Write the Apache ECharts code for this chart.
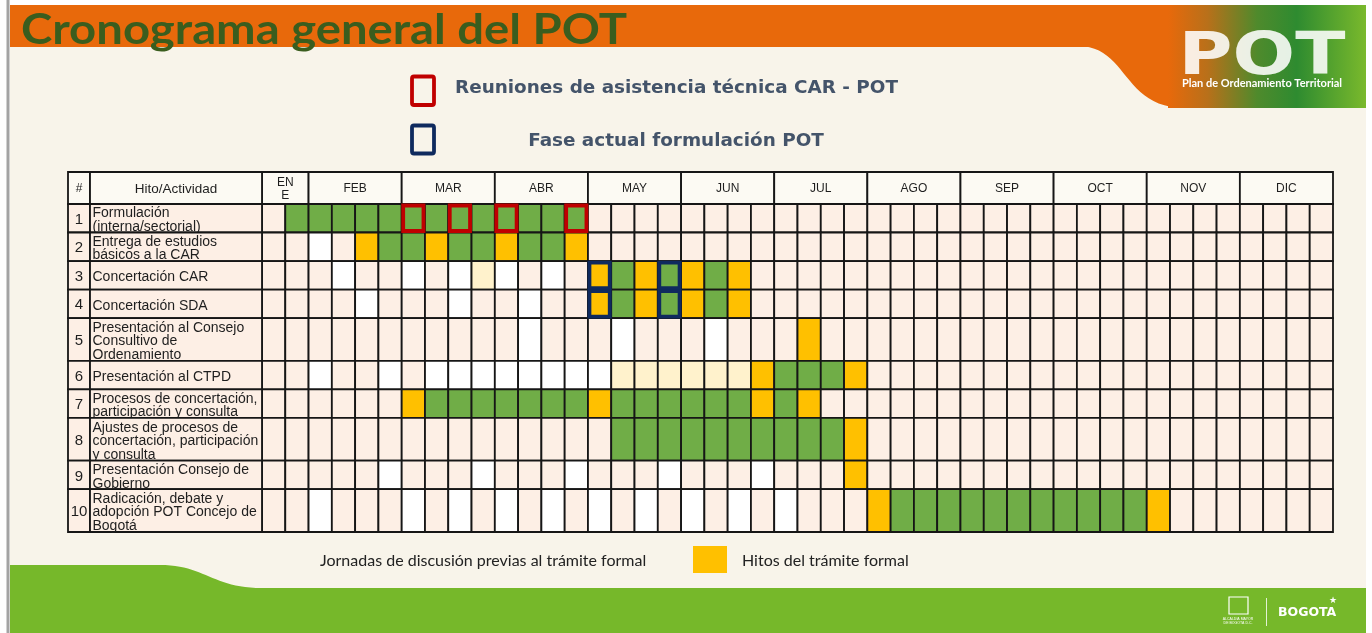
<!DOCTYPE html>
<html><head><meta charset="utf-8">
<script src="https://cdn.jsdelivr.net/npm/echarts@6/dist/echarts.min.js"></script>
<style>html,body{margin:0;padding:0;background:#fff}#c{width:1372px;height:633px}</style>
</head><body><div id="c"></div>
<script>
// ---------- DATA ----------
const months = ['EN\nE','FEB','MAR','ABR','MAY','JUN','JUL','AGO','SEP','OCT','NOV','DIC'];
const monthWeeks = [2,4,4,4,4,4,4,4,4,4,4,4];
const activityNumbers = ['1','2','3','4','5','6','7','8','9','10'];
const activities = [
  'Formulación\n(interna/sectorial)',
  'Entrega de estudios\nbásicos a la CAR',
  'Concertación CAR',
  'Concertación SDA',
  'Presentación al Consejo\nConsultivo de\nOrdenamiento',
  'Presentación al CTPD',
  'Procesos de concertación,\nparticipación y consulta',
  'Ajustes de procesos de\nconcertación, participación\ny consulta',
  'Presentación Consejo de\nGobierno',
  'Radicación, debate y\nadopción POT Concejo de\nBogotá'
];
// one character per week: p = sin actividad, w = jornada de discusión, g = actividad,
// y = hito del trámite formal, l = hito tentativo
const weekStates = [
  'pggggggggggggg' + 'pppppppppppppppppppppppppppppppp',
  'ppwpyggyggyggy' + 'pppppppppppppppppppppppppppppppp',
  'pppwppwpwlwpwpygygygyp' + 'pppppppppppppppppppppppp',
  'ppppwpppwppwppygygygyp' + 'pppppppppppppppppppppppp',
  'pppppppppppwpppwpppwpppy' + 'pppppppppppppppppppppp',
  'ppwppwpwwwwwwwwllllllygggy' + 'pppppppppppppppppppp',
  'ppppppygggggggyggggggygy' + 'pppppppppppppppppppppp',
  'ppppppppppppppp' + 'gggggggggg' + 'y' + 'pppppppppppppppppppp',
  'pppppwpppwpppwpppwpppwpppy' + 'pppppppppppppppppppp',
  'ppwpppwpwpwpwpwpwpwpwpwpppygggggggggggy' + 'pppppppp'
];
const technicalMeetings = [[0,6],[0,8],[0,10],[0,13]];   // [activity, week]
const currentPhase = [[2,14],[2,17],[3,14],[3,17]];       // [activity, week]
const topLegend = ['Reuniones de asistencia técnica CAR - POT','Fase actual formulación POT'];
const bottomLegend = ['Jornadas de discusión previas al trámite formal','Hitos del trámite formal'];
const titleText = 'Cronograma general del POT';

// ---------- STYLE ----------
const FILL = {p:'#fdefe5', w:'#ffffff', g:'#70ad47', y:'#ffc000', l:'#fff2cc'};
const LINE = '#161616';
const HEADER_H = 32;
const NUM_FRAC = 22/194;
const TXT = 'Liberation Sans, Arial, sans-serif';

// derived structure
const rowSpans = activities.map(a => Math.max(2, a.split('\n').length));
const rowStarts = []; let acc = 0; rowSpans.forEach(s => { rowStarts.push(acc); acc += s; });
const totalUnits = acc;
const totalWeeks = monthWeeks.reduce((a,b)=>a+b,0);
const monthStarts = []; let m = 0; monthWeeks.forEach(w => { monthStarts.push(m); m += w; });

const cellData = [], cellCodes = [];
weekStates.forEach((s, r) => {
  for (let k = 0; k < totalWeeks; k++) {
    cellData.push([k, rowStarts[r], rowStarts[r] + rowSpans[r]]);
    cellCodes.push(s[k] || 'p');
  }
});
const markData = arr => arr.map(([r,k]) => [k, rowStarts[r], rowStarts[r] + rowSpans[r]]);
const monthData = months.map((_, i) => [monthStarts[i], monthStarts[i] + monthWeeks[i]]);
const rowData = activities.map((_, r) => [0, rowStarts[r], rowStarts[r] + rowSpans[r]]);

function txt(text, x, y, o) {
  return {type:'text', style:Object.assign({text, x, y, fontFamily:TXT, fontSize:12, fill:'#1e1e1e',
    textAlign:'center', textVerticalAlign:'middle', align:'center', verticalAlign:'middle'}, o || {})};
}
// cubic bezier sampled into polygon points (decoration shapes)
function bez(p0, c1, c2, p1, n) {
  const pts = [];
  for (let i = 0; i <= n; i++) {
    const t = i / n, u = 1 - t;
    pts.push([u*u*u*p0[0] + 3*u*u*t*c1[0] + 3*u*t*t*c2[0] + t*t*t*p1[0],
              u*u*u*p0[1] + 3*u*u*t*c1[1] + 3*u*t*t*c2[1] + t*t*t*p1[1]]);
  }
  return pts;
}

function renderCell(params, api) {
  const p0 = api.coord([api.value(0), api.value(1)]);
  const p1 = api.coord([api.value(0) + 1, api.value(2)]);
  return {type:'rect', shape:{x:p0[0], y:p0[1], width:p1[0]-p0[0], height:p1[1]-p0[1]},
    style:{fill:FILL[cellCodes[params.dataIndex]], stroke:LINE, lineWidth:1.8}};
}
function markRenderer(color) {
  return function (params, api) {
    const p0 = api.coord([api.value(0), api.value(1)]);
    const p1 = api.coord([api.value(0) + 1, api.value(2)]);
    return {type:'rect', shape:{x:p0[0]+1.5, y:p0[1]+1.5, width:p1[0]-p0[0]-3, height:p1[1]-p0[1]-3},
      style:{fill:'none', stroke:color, lineWidth:3.8}};
  };
}
function renderMonth(params, api) {
  const p0 = api.coord([api.value(0), 0]);
  const p1 = api.coord([api.value(1), 0]);
  const y = p0[1] - HEADER_H;
  return {type:'group', children:[
    {type:'rect', shape:{x:p0[0], y, width:p1[0]-p0[0], height:HEADER_H}, style:{fill:'#fcfaf3', stroke:LINE, lineWidth:1.8}},
    txt(months[params.dataIndex], (p0[0]+p1[0])/2, y + HEADER_H/2 + 1, {fontSize:12, lineHeight:13})
  ]};
}
function renderRow(params, api) {
  const p0 = api.coord([0, api.value(1)]);
  const p1 = api.coord([1, api.value(2)]);
  const xs = p0[0] + (p1[0]-p0[0]) * NUM_FRAC;
  const cy = (p0[1]+p1[1])/2;
  const r = params.dataIndex;
  return {type:'group', children:[
    {type:'rect', shape:{x:p0[0], y:p0[1], width:xs-p0[0], height:p1[1]-p0[1]}, style:{fill:FILL.p, stroke:LINE, lineWidth:1.8}},
    {type:'rect', shape:{x:xs, y:p0[1], width:p1[0]-xs, height:p1[1]-p0[1]}, style:{fill:FILL.p, stroke:LINE, lineWidth:1.8}},
    txt(activityNumbers[r], (p0[0]+xs)/2, cy + 1.5, {fontSize:15}),
    txt(activities[r], xs + 2.5, cy + 2, {fontSize:14, lineHeight:13.6, textAlign:'left', align:'left'})
  ]};
}
function renderRowHeader(params, api) {
  const p0 = api.coord([0, 0]);
  const p1 = api.coord([1, 0]);
  const xs = p0[0] + (p1[0]-p0[0]) * NUM_FRAC;
  const y = p0[1] - HEADER_H;
  return {type:'group', children:[
    {type:'rect', shape:{x:p0[0], y, width:xs-p0[0], height:HEADER_H}, style:{fill:'#fcfaf3', stroke:LINE, lineWidth:1.8}},
    {type:'rect', shape:{x:xs, y, width:p1[0]-xs, height:HEADER_H}, style:{fill:'#fcfaf3', stroke:LINE, lineWidth:1.8}},
    txt('#', (p0[0]+xs)/2, y + HEADER_H/2 + 1, {fontSize:12}),
    txt('Hito/Actividad', (xs+p1[0])/2, y + HEADER_H/2 + 1, {fontSize:13.5})
  ]};
}

const orangeCurve = [[1078,5]].concat(bez([1078,46],[1128,46],[1122,108],[1185,108],24)).concat([[1185,5]]);
const greenBand = [[10,565],[160,565]].concat(bez([160,565],[205,565],[212,588],[262,588],24)).concat([[1366,588],[1366,633],[10,633]]);

function gtext(text, x, y, o, z) {
  return {type:'text', z: z == null ? -5 : z, style:Object.assign({text, x, y, fontFamily:TXT, fontSize:12, fill:'#222',
    textAlign:'left', textVerticalAlign:'middle', align:'left', verticalAlign:'middle'}, o || {})};
}

const titleEl = gtext(titleText, 21, 30, {fontFamily:'Lato', fontWeight:'bold', fontSize:42, fill:'#3a5d1e'});
titleEl.scaleX = 1.125; titleEl.originX = 21; titleEl.originY = 30;

const graphic = [
  {type:'rect', z:-10, shape:{x:0,y:0,width:1372,height:633}, style:{fill:'#ffffff'}},
  {type:'rect', z:-9, shape:{x:10,y:5,width:1356,height:628}, style:{fill:'#f8f4ea'}},
  {type:'rect', z:-9, shape:{x:6.5,y:0,width:3,height:633}, style:{fill:'#a3a3a3'}},
  {type:'rect', z:-8, shape:{x:10,y:5,width:1175,height:42}, style:{fill:'#e8690b'}},
  {type:'polygon', z:-8, shape:{points:orangeCurve}, style:{fill:'#e8690b'}},
  {type:'rect', z:-7, shape:{x:1168,y:5,width:1366-1168,height:103},
    style:{fill:{type:'linear', x:0, y:0, x2:1, y2:0, colorStops:[
      {offset:0, color:'#e8690b'},{offset:0.2, color:'#b8701a'},{offset:0.45, color:'#4f8a2c'},
      {offset:0.65, color:'#2e8b30'},{offset:1, color:'#7ab92c'}]}}},
  {type:'text', z:-6, scaleX:1.27, originX:1262, originY:59,
    style:{text:'POT', x:1262, y:59, fontFamily:'DejaVu Sans', fontWeight:'bold', fontSize:58,
    fill:'rgba(255,255,255,0.88)', textAlign:'center', textVerticalAlign:'middle', align:'center', verticalAlign:'middle'}},
  gtext('Plan de Ordenamiento Territorial', 1262, 83, {fontFamily:'Lato', fontWeight:'bold', fontSize:11, fill:'#ffffff', textAlign:'center', align:'center'}, -6),
  {type:'polygon', z:-8, shape:{points:greenBand}, style:{fill:'#76b82a'}},
  {type:'rect', z:-6, shape:{x:1229,y:597,width:19,height:17}, style:{fill:'none', stroke:'#ffffff', lineWidth:1.2}},
  gtext('ALCALDÍA MAYOR\nDE BOGOTÁ D.C.', 1238, 621, {fontSize:3.5, lineHeight:4, fill:'#ffffff', textAlign:'center', align:'center'}, -6),
  {type:'rect', z:-6, shape:{x:1266,y:598,width:1,height:28}, style:{fill:'rgba(255,255,255,0.8)'}},
  gtext('BOGOTA', 1278, 613, {fontFamily:'DejaVu Sans', fontWeight:'bold', fontSize:12.5, fill:'#ffffff'}, -6),
  gtext('★', 1333, 601, {fontFamily:'DejaVu Sans', fontSize:9, fill:'#ffffff', textAlign:'center', align:'center'}, -6),
  titleEl,
  {type:'rect', z:-5, shape:{x:412,y:76.5,width:22,height:28.5, r:2}, style:{fill:'none', stroke:'#c00000', lineWidth:3.8}},
  gtext(topLegend[0], 455, 88, {fontFamily:'DejaVu Sans', fontWeight:'bold', fontSize:18.4, fill:'#44546a'}),
  {type:'rect', z:-5, shape:{x:412,y:125.5,width:22,height:28, r:2}, style:{fill:'none', stroke:'#0f2a5e', lineWidth:3.8}},
  gtext(topLegend[1], 676, 141, {fontFamily:'DejaVu Sans', fontWeight:'bold', fontSize:18.4, fill:'#44546a', textAlign:'center', align:'center'}),
  gtext(bottomLegend[0], 320, 561, {fontFamily:'Lato', fontSize:16, fill:'#222222'}),
  {type:'rect', z:-5, shape:{x:693,y:546,width:34,height:27}, style:{fill:FILL.y}},
  gtext(bottomLegend[1], 742, 561, {fontFamily:'Lato', fontSize:16, fill:'#222222'})
];

const chart = echarts.init(document.getElementById('c'), null, {renderer:'canvas'});
chart.setOption({
  animation:false,
  backgroundColor:'#ffffff',
  graphic: {elements: graphic},
  grid:[{left:262, top:204, width:1071, height:328},{left:68, top:204, width:194, height:328}],
  xAxis:[{type:'value', gridIndex:0, min:0, max:totalWeeks, show:false},
         {type:'value', gridIndex:1, min:0, max:1, show:false}],
  yAxis:[{type:'value', gridIndex:0, min:0, max:totalUnits, inverse:true, show:false},
         {type:'value', gridIndex:1, min:0, max:totalUnits, inverse:true, show:false}],
  series:[
    {type:'custom', name:'celdas', xAxisIndex:0, yAxisIndex:0, clip:false, z:2, data:cellData, renderItem:renderCell, encode:{x:0, y:[1,2]}},
    {type:'custom', name:'meses', xAxisIndex:0, yAxisIndex:0, clip:false, z:2, data:monthData, renderItem:renderMonth, encode:{x:[0,1]}},
    {type:'custom', name:topLegend[0], xAxisIndex:0, yAxisIndex:0, clip:false, z:4, data:markData(technicalMeetings), renderItem:markRenderer('#c00000'), encode:{x:0, y:[1,2]}},
    {type:'custom', name:topLegend[1], xAxisIndex:0, yAxisIndex:0, clip:false, z:4, data:markData(currentPhase), renderItem:markRenderer('#0f2a5e'), encode:{x:0, y:[1,2]}},
    {type:'custom', name:'actividades', xAxisIndex:1, yAxisIndex:1, clip:false, z:2, data:rowData, renderItem:renderRow, encode:{y:[1,2]}},
    {type:'custom', name:'encabezado', xAxisIndex:1, yAxisIndex:1, clip:false, z:2, data:[[0,0,0]], renderItem:renderRowHeader}
  ]
});
</script>
</body></html>
